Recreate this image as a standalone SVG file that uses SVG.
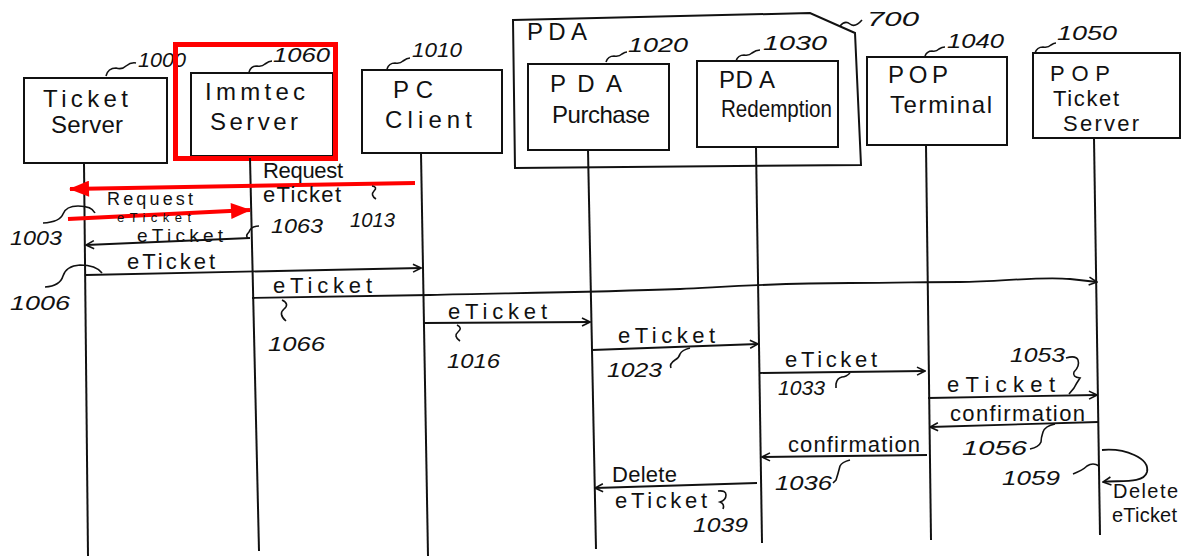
<svg xmlns="http://www.w3.org/2000/svg" width="1193" height="556" viewBox="0 0 1193 556">
<style>
text{font-family:"Liberation Sans",Arial,sans-serif;fill:#111}
.box{fill:none;stroke:#111;stroke-width:2}
.lbl{font-size:24px}
.num{font-size:21px;font-style:italic}
.msg{font-size:22px}
.life{stroke:#111;stroke-width:2;fill:none}
.arr{stroke:#111;stroke-width:1.8;fill:none;marker-end:url(#open)}
.lead{stroke:#111;stroke-width:1.6;fill:none}
.red{stroke:#f00;stroke-width:4;fill:none;marker-end:url(#redhead)}
</style>
<defs>
<marker id="open" viewBox="0 0 10 10" refX="9" refY="5" markerWidth="10" markerHeight="10" markerUnits="userSpaceOnUse" orient="auto">
<path d="M1,1 L9,5 L1,9" fill="none" stroke="#111" stroke-width="1.6"/>
</marker>
<marker id="redhead" viewBox="0 0 20 16" refX="19" refY="8" markerWidth="22" markerHeight="16" markerUnits="userSpaceOnUse" orient="auto">
<path d="M0,0 L20,8 L0,16 z" fill="#f00"/>
</marker>
</defs>
<rect width="1193" height="556" fill="#fff"/>

<g id="pda-group">
<path class="box" d="M513,20 L810,13 L855,33 L861,165 L515,168 Z"/>
<text class="lbl" x="527" y="40" textLength="60" lengthAdjust="spacing">PDA</text>
<path class="lead" d="M840,26 q5,-6 10,-2 q5,4 12,-4"/>
<text class="num" x="867" y="26" textLength="52" lengthAdjust="spacingAndGlyphs">700</text>
</g>

<g id="ticket-server">
<rect class="box" x="24" y="78" width="143" height="85"/>
<text class="lbl" x="43" y="107" textLength="85" lengthAdjust="spacing">Ticket</text>
<text class="lbl" x="51" y="133" textLength="72" lengthAdjust="spacing">Server</text>
<path class="lead" d="M106,76 q2,-8 10,-8 q6,2 10,-2 q5,-4 10,-3"/>
<text class="num" x="138" y="67" textLength="48" lengthAdjust="spacingAndGlyphs">1000</text>
</g>

<g id="immtec-server">
<rect class="box" x="191" y="73" width="142" height="83"/>
<text class="lbl" x="205" y="100" textLength="100" lengthAdjust="spacing">Immtec</text>
<text class="lbl" x="210" y="130" textLength="88" lengthAdjust="spacing">Server</text>
<path class="lead" d="M249,72 q2,-6 8,-6 q5,1 8,-2 q4,-3 7,-3"/>
<text class="num" x="273" y="62" textLength="57" lengthAdjust="spacingAndGlyphs">1060</text>
<rect x="175.5" y="44.5" width="160" height="114" fill="none" stroke="#f00" stroke-width="5"/>
</g>

<g id="pc-client">
<rect class="box" x="362" y="70" width="140" height="83"/>
<text class="lbl" x="393" y="98" textLength="40" lengthAdjust="spacing">PC</text>
<text class="lbl" x="385" y="128" textLength="87" lengthAdjust="spacing">Client</text>
<path class="lead" d="M387,69 q2,-6 8,-6 q5,1 8,-2 q4,-3 7,-3"/>
<text class="num" x="412" y="57" textLength="50" lengthAdjust="spacingAndGlyphs">1010</text>
</g>

<g id="pda-purchase">
<rect class="box" x="528" y="64" width="141" height="86"/>
<text class="lbl" x="550" y="92" textLength="72" lengthAdjust="spacing">PDA</text>
<text class="lbl" x="552" y="123" textLength="98" lengthAdjust="spacing">Purchase</text>
<path class="lead" d="M606,62 q2,-6 8,-6 q5,1 8,-2 q3,-2 5,-2"/>
<text class="num" x="628" y="52" textLength="60" lengthAdjust="spacingAndGlyphs">1020</text>
</g>

<g id="pda-redemption">
<rect class="box" x="697" y="61" width="141" height="86"/>
<text class="lbl" x="719" y="88" textLength="56" lengthAdjust="spacing">PD A</text>
<text class="lbl" x="721" y="117" textLength="111" lengthAdjust="spacingAndGlyphs">Redemption</text>
<path class="lead" d="M736,61 q2,-6 8,-6 q5,1 8,-2 q4,-3 8,-3"/>
<text class="num" x="763" y="50" textLength="64" lengthAdjust="spacingAndGlyphs">1030</text>
</g>

<g id="pop-terminal">
<rect class="box" x="867" y="57" width="140" height="88"/>
<text class="lbl" x="888" y="83" textLength="60" lengthAdjust="spacing">POP</text>
<text class="lbl" x="890" y="113" textLength="102" lengthAdjust="spacing">Terminal</text>
<path class="lead" d="M925,56 q2,-5 7,-5 q4,1 7,-2 q3,-2 6,-2"/>
<text class="num" x="947" y="48" textLength="57" lengthAdjust="spacingAndGlyphs">1040</text>
</g>

<g id="pop-ticket-server">
<rect class="box" x="1033" y="53" width="147" height="85"/>
<text class="lbl" x="1050" y="81" style="font-size:22px" textLength="60" lengthAdjust="spacing">POP</text>
<text class="lbl" x="1053" y="106" style="font-size:22px" textLength="66" lengthAdjust="spacing">Ticket</text>
<text class="lbl" x="1063" y="131" style="font-size:22px" textLength="76" lengthAdjust="spacing">Server</text>
<path class="lead" d="M1035,53 q2,-6 8,-6 q5,1 8,-2 q3,-2 5,-2"/>
<text class="num" x="1057" y="40" textLength="60" lengthAdjust="spacingAndGlyphs">1050</text>
</g>

<g id="lifelines">
<path class="life" d="M84,163 L88,556"/>
<path class="life" d="M250,158 L259,551"/>
<path class="life" d="M421,153 L428,556"/>
<path class="life" d="M588,150 L596,549"/>
<path class="life" d="M756,147 L762,543"/>
<path class="life" d="M926,145 L931,540"/>
<path class="life" d="M1094,138 L1100,535"/>
</g>

<g id="connectors">
<path class="red" d="M415,183 L70,189"/>
<text class="msg" x="263" y="178" textLength="80" lengthAdjust="spacing">Request</text>
<text class="msg" x="263" y="202" textLength="78" lengthAdjust="spacing">eTicket</text>
<path class="lead" d="M372,186 q6,1 2,5 q-4,4 2,8"/>
<text class="num" x="350" y="227" textLength="45" lengthAdjust="spacingAndGlyphs">1013</text>

<path class="red" d="M68,219 L250,210"/>
<text class="msg" x="107" y="205" style="font-size:18px" textLength="86" lengthAdjust="spacing">Request</text>
<text class="msg" x="117" y="222" style="font-size:13px" textLength="74" lengthAdjust="spacing">eTicket</text>
<path class="lead" d="M43,223 Q60,222 63,214 Q66,206 78,206 Q92,206 95,213"/>
<text class="num" x="10" y="245" textLength="52" lengthAdjust="spacingAndGlyphs">1003</text>

<path class="arr" d="M250,238 L86,245"/>
<text class="msg" x="137" y="242" style="font-size:19px" textLength="86" lengthAdjust="spacing">eTicket</text>
<path class="lead" d="M248,238 q-3,-2 1,-6 q2,-6 10,-6"/>
<text class="num" x="271" y="233" textLength="52" lengthAdjust="spacingAndGlyphs">1063</text>

<path class="arr" d="M86,275 L421,268"/>
<text class="msg" x="127" y="269" textLength="88" lengthAdjust="spacing">eTicket</text>
<path class="lead" d="M45,287 Q60,286 63,276 Q66,266 80,265 Q96,265 102,273"/>
<text class="num" x="10" y="310" textLength="60" lengthAdjust="spacingAndGlyphs">1006</text>

<path class="arr" d="M252,298 C330,297 400,296 430,295 C520,293 600,292 680,289 C740,286 780,283 850,283 C900,283 920,282 960,282 C1000,282 1040,276 1070,279 L1097,282"/>
<text class="msg" x="273" y="293" textLength="99" lengthAdjust="spacing">eTicket</text>
<path class="lead" d="M282,300 q8,4 2,9 q-6,5 2,12"/>
<text class="num" x="268" y="351" textLength="57" lengthAdjust="spacingAndGlyphs">1066</text>

<path class="arr" d="M423,323 L590,322"/>
<text class="msg" x="448" y="319" textLength="99" lengthAdjust="spacing">eTicket</text>
<path class="lead" d="M457,325 q6,3 1,7 q-5,4 2,9"/>
<text class="num" x="447" y="368" textLength="53" lengthAdjust="spacingAndGlyphs">1016</text>

<path class="arr" d="M592,350 L758,344"/>
<text class="msg" x="618" y="343" textLength="97" lengthAdjust="spacing">eTicket</text>
<path class="lead" d="M690,348 q-8,2 -10,6 q-1,4 -5,6 q-6,4 -4,8"/>
<text class="num" x="607" y="377" textLength="55" lengthAdjust="spacingAndGlyphs">1023</text>

<path class="arr" d="M760,373 L925,371"/>
<text class="msg" x="785" y="367" textLength="92" lengthAdjust="spacing">eTicket</text>
<path class="lead" d="M850,373 q-4,4 -8,4 q-5,1 -6,7 l0,4"/>
<text class="num" x="778" y="395" textLength="47" lengthAdjust="spacingAndGlyphs">1033</text>

<path class="arr" d="M928,398 L1097,395"/>
<text class="msg" x="947" y="392" textLength="108" lengthAdjust="spacing">eTicket</text>
<path class="lead" d="M1066,358 q10,-3 12,2 q2,6 -4,12 q-2,5 6,6 q-4,6 -6,10 l-5,6"/>
<text class="num" x="1010" y="362" textLength="55" lengthAdjust="spacingAndGlyphs">1053</text>

<path class="arr" d="M1098,422 L930,427"/>
<text class="msg" x="950" y="421" textLength="135" lengthAdjust="spacing">confirmation</text>
<path class="lead" d="M1055,424 q-10,2 -12,8 q-2,6 -2,10 q-2,5 -11,7"/>
<text class="num" x="962" y="455" textLength="65" lengthAdjust="spacingAndGlyphs">1056</text>

<path class="arr" d="M927,455 L762,457"/>
<text class="msg" x="788" y="452" textLength="132" lengthAdjust="spacing">confirmation</text>
<path class="lead" d="M850,460 q-8,2 -10,6 q-2,8 -4,14 l-3,3"/>
<text class="num" x="775" y="490" textLength="57" lengthAdjust="spacingAndGlyphs">1036</text>

<path class="arr" d="M757,483 L595,488"/>
<text class="msg" x="612" y="482" textLength="65" lengthAdjust="spacing">Delete</text>
<text class="msg" x="615" y="508" textLength="92" lengthAdjust="spacing">eTicket</text>
<path class="lead" d="M718,491 q8,-1 8,4 q0,5 -6,7 q5,2 3,7"/>
<text class="num" x="693" y="532" textLength="55" lengthAdjust="spacingAndGlyphs">1039</text>

<path class="arr" d="M1102,450 C1125,448 1150,458 1147,472 C1144,484 1118,480 1103,482"/>
<text class="msg" x="1113" y="498" style="font-size:20px" textLength="65" lengthAdjust="spacing">Delete</text>
<text class="msg" x="1112" y="522" style="font-size:20px" textLength="65" lengthAdjust="spacing">eTicket</text>
<path class="lead" d="M1073,474 q10,-4 14,-8 q6,-4 12,0"/>
<text class="num" x="1002" y="485" textLength="58" lengthAdjust="spacingAndGlyphs">1059</text>
</g>
</svg>
